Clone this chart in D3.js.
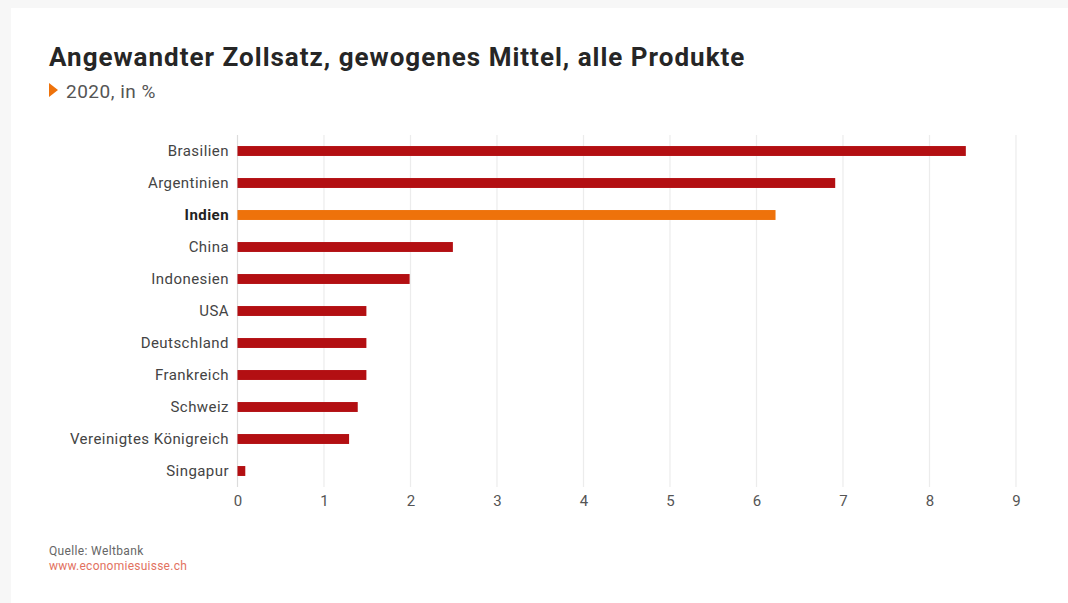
<!DOCTYPE html>
<html><head><meta charset="utf-8">
<script src="https://cdn.jsdelivr.net/npm/d3@7"></script>
<style>
html,body{margin:0;padding:0;background:#f7f7f7;}
svg{display:block;}
text{font-family:Roboto, "DejaVu Sans", sans-serif;}
</style></head>
<body>
<svg id="c" width="1068" height="603"></svg>
<script>
const countries = ["Brasilien","Argentinien","Indien","China","Indonesien","USA","Deutschland","Frankreich","Schweiz","Vereinigtes Königreich","Singapur"];
const values = [8.42, 6.91, 6.22, 2.49, 1.99, 1.49, 1.49, 1.49, 1.39, 1.29, 0.09];
const highlight = ["Indien"];
const xTicks = [0,1,2,3,4,5,6,7,8,9];

const svg = d3.select("#c");
svg.append("rect").attr("x",11).attr("y",8).attr("width",1068-11).attr("height",603-8).attr("fill","#fff");

svg.append("text").attr("x",49).attr("y",66).attr("font-size",26).attr("font-weight",700).attr("fill","#262626")
  .attr("letter-spacing",1.0)
  .text("Angewandter Zollsatz, gewogenes Mittel, alle Produkte");
svg.append("path").attr("d","M49,83 L58,90 L49,97 Z").attr("fill","#ee720b");
svg.append("text").attr("x",66).attr("y",98).attr("font-size",19).attr("fill","#555").attr("letter-spacing",0.5)
  .text("2020, in %");

const x = d3.scaleLinear().domain([0,9]).range([237.5,1016]);
const y = d3.scaleBand().domain(countries).range([135,487]).paddingInner(0.69).paddingOuter(0.345);

const g = svg.append("g");
g.selectAll("line.grid").data(xTicks).join("line")
  .attr("x1",d=>x(d)).attr("x2",d=>x(d)).attr("y1",135).attr("y2",487)
  .attr("stroke",d=>d===0?"#dcdcdc":"#ececec").attr("stroke-width",1.2);

g.selectAll("rect.bar").data(countries).join("rect")
  .attr("x",x(0)).attr("y",d=>y(d)).attr("height",y.bandwidth())
  .attr("width",(d,i)=>x(values[i])-x(0))
  .attr("fill",d=>highlight.includes(d)?"#ee720b":"#b30f12");

const yAxis = d3.axisLeft(y).tickSize(0).tickPadding(8);
const ya = svg.append("g").attr("transform","translate(237,0)").call(yAxis);
ya.select(".domain").remove();
ya.selectAll("text").attr("font-size",15).attr("fill",d=>highlight.includes(d)?"#222":"#444")
  .attr("letter-spacing",0.45)
  .attr("font-weight",d=>highlight.includes(d)?700:400).attr("font-family","Roboto, sans-serif");

const xAxis = d3.axisBottom(x).tickValues(xTicks).tickSize(0).tickPadding(8).tickFormat(d3.format("d"));
const xa = svg.append("g").attr("transform","translate(0,487)").call(xAxis);
xa.select(".domain").remove();
xa.selectAll("text").attr("font-size",15).attr("fill","#555").attr("font-family","Roboto, sans-serif");

svg.append("text").attr("x",49).attr("y",555).attr("font-size",12).attr("fill","#666").attr("letter-spacing",0.35).text("Quelle: Weltbank");
svg.append("text").attr("x",49).attr("y",570).attr("font-size",12).attr("fill","#e2725f").attr("letter-spacing",0.25).text("www.economiesuisse.ch");
</script>
</body></html>
